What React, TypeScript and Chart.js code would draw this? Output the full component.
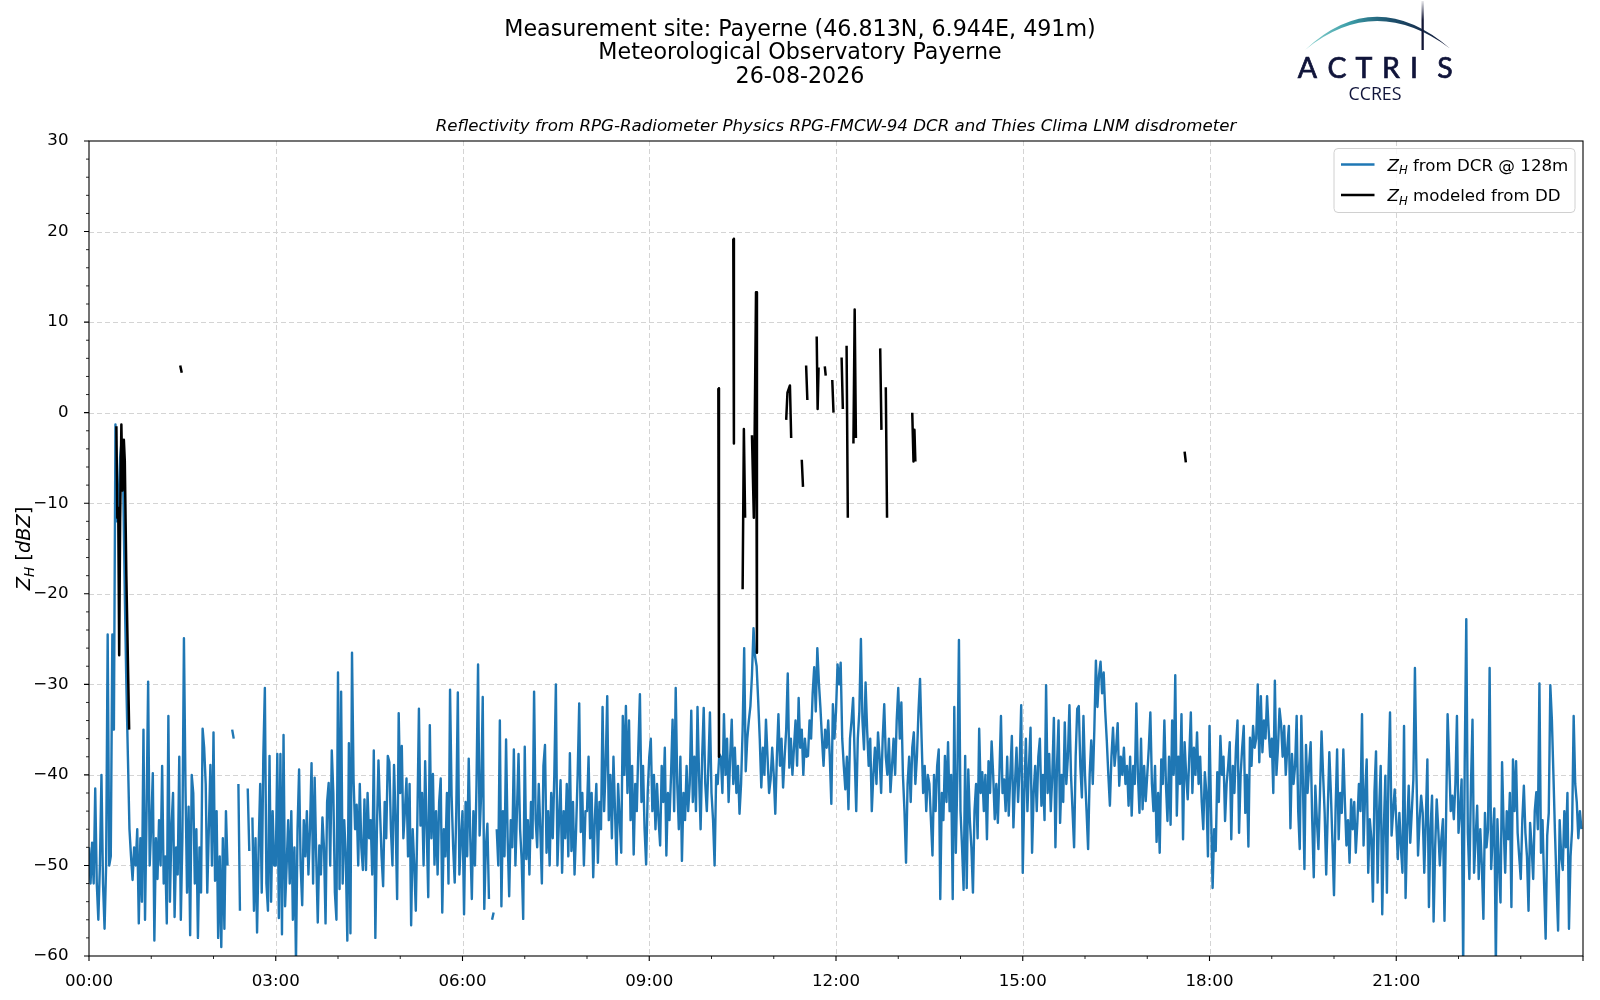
import React, { useEffect, useRef } from 'react';
import { Chart, registerables } from 'chart.js';

Chart.register(...registerables);

const FONT = '"DejaVu Sans", "Liberation Sans", sans-serif';

const TITLE_LINES = [
  'Measurement site: Payerne (46.813N, 6.944E, 491m)',
  'Meteorological Observatory Payerne',
  '26-08-2026',
];
const SUBTITLE = 'Reflectivity from RPG-Radiometer Physics RPG-FMCW-94 DCR and Thies Clima LNM disdrometer';
const LOGO_WORD = 'ACTRIS';
const LOGO_SUB = 'CCRES';

const X_MIN = 0;
const X_MAX = 24;
const X_MAJOR_STEP = 3;
const X_MINOR_STEP = 1;
const X_TICK_LABELS = ['00:00', '03:00', '06:00', '09:00', '12:00', '15:00', '18:00', '21:00'];
const Y_MIN = -60;
const Y_MAX = 30;
const Y_MAJOR_STEP = 10;
const Y_MINOR_STEP = 2;

// DCR reflectivity at 128 m, one value every 1.5 minutes (0.025 h)
const DCR_STEP_HOURS = 0.025;

const dcr00to06: (number | null)[] = [
  -48, -52, -47.5, -52, -41.5, -52, -56, -50, -40, -52, -57, -50, -24.5, -50, -49, -24.5, -35, -1.3, -12, -10,
  -5, -3, -8, -20, -30, -38, -46, -49, -51.6, -48, -50, -46, -56.4, -47, -54, -35, -56, -44, -29.7, -50,
  -45.5, -39.8, -58.3, -47, -51.5, -45, -50, -39, -52, -49, -56.4, -33.5, -54, -45.8, -42, -55.7, -48, -51, -38, -56,
  -47, -24.9, -41.3, -53, -43.5, -57.7, -40, -42, -52, -46, -58, -48, -53, -34.9, -37, -41, -53, -46, -38.9, -50,
  -35.3, -51.7, -44, -58, -49, -59, -47, -57, -44, -50, null, null, -35, -36, null, null, -41, -55, null, null,
  null, null, -41.5, -48.4, null, -44.7, -55, -47, -57.4, -48, -41, -53, -38, -30.4, -52, -55, -37.9, -54, -44, -50,
  -50, -37.7, -55.8, -37.7, -57.6, -35.6, -54.5, -50, -45, -52, -44, -56, -48, -60.5, -46, -39.4, -50, -54.4, -45, -49,
  -44, -51, -46, -38.7, -52, -40.3, -49, -56.3, -47.8, -51, -44.7, -48, -56.4, -43, -40.9, -50, -37.3, -42, -53, -56,
  -28.7, -52.6, -30.8, -52, -45, -49, -58.3, -36.5, -57.5, -26.5, -40.5, -46, -43.3, -50, -41, -48, -50.5, -42.7, -50.5, -42,
  -47, -45, -51, -37.3, -58, -46, -38.4, -44, -49, -52.3, -43, -47, -37.9, -38.6, -46, -50, -38.9, -45, -53.7, -33.2,
  -42, -36.8, -47, -44, -40.4, -49, -41, -56.6, -46, -50, -55, -45, -32.7, -45.6, -42, -50, -38.5, -46, -53.5, -34.5,
  -47, -39.9, -49.9, -44, -51, -43, -40.4, -55.2, -46, -49, -42, -52, -30.6, -42.3, -48, -51.9, -44, -30.9, -51, -47,
];

const dcr06to12: (number | null)[] = [
  -44, -55.4, -43, -49, -38.2, -47, -53.7, -44, -50, -41, -27.8, -46.7, -42, -31.4, -54.8, -48, -45.4, -53.7, null, -56,
  -55.2, null, -46, -50, -34, -54.5, -44, -49, -36.1, -47, -53.4, -45, -48, -37.2, -50, -44, -37.7, -46, -49.3, -55.9,
  -36.9, -49.3, -45, -51, -43, -47, -30.8, -44.9, -48, -41, -46, -52, -39, -36.7, -48.6, -44, -50, -42, -47, -40,
  -30, -50, -45, -40.6, -50.8, -44, -47, -41, -49, -37.6, -48.4, -43, -51, -46, -40, -32.1, -46.3, -42, -50, -44,
  -44, -38, -47, -42, -51.3, -45, -41, -49.7, -43, -46, -32.5, -44, -39, -31.3, -45, -40, -47, -38, -44, -49.9,
  -41, -45, -48.6, -33.5, -40, -32.4, -42, -34, -45, -39, -48.8, -41, -44, -37, -31.1, -43, -39, -46, -49.9, -42,
  -38, -36, -44, -40, -46, -41, -45, -47.8, -39, -43, -37, -48.9, -42, -45, -40, -33.9, -44, -30.4, -41, -46,
  -38, -49.5, -42, -45, -39, -44, -41, -32.9, -43, -38, -44, -32.5, -40, -46, -38, -32.6, -41, -44, -39, -33.1,
  -42, -45, -50, -40, -41, -37.7, -38, -42, -33.3, -40, -36, -43, -38, -33.9, -41, -37, -42, -39, -44.3, -41,
  -35, -26, -39.6, -36, -34, -32.4, -29, -23.8, -26.9, -28, -31.8, -36, -41.4, -37, -40, -33.9, -38, -42, -40.5, -37,
  -40, -44.3, -38, -33.3, -39, -36, -41.4, -38, -35, -28.8, -39.2, -36, -40, -37, -34, -39, -31.5, -37, -35, -40,
  -36, -38, -37.9, -34, -36, -31, -28.1, -33, -26, -29.8, -32.6, -36, -39, -35, -37, -34, -38, -43.2, -32.2, -36,
];

const dcr12to18: (number | null)[] = [
  -33, -27.8, -30, -27.6, -36, -39, -41.6, -38, -43.8, -36, -34, -31.5, -38, -44, -36, -33, -25, -34, -37.2, -29.8,
  -35, -39, -36, -44, -40, -37, -41, -35.3, -38, -42, -36, -32.2, -38, -40, -36, -41.9, -39, -36, -40, -34,
  -30.4, -36, -32, -40, -44, -49.7, -41, -38, -43, -37, -35.3, -41, -38, -33, -29.4, -36, -42, -39, -44, -40,
  -41, -45, -48.9, -40, -44, -39, -37.2, -53.7, -42, -45, -37.9, -43, -36.4, -44, -40, -53.7, -32.5, -48.6, -40, -25.1,
  -44, -48, -52.7, -37.9, -52.5, -39.4, -45, -48, -53, -44, -41, -47, -34.9, -42, -39.7, -44, -40, -47.1, -38.5, -42,
  -36.3, -40, -44.9, -41, -45.3, -40, -33.5, -42, -40.5, -44, -38, -44.5, -40, -35.7, -45.8, -41, -37, -43, -39, -32.3,
  -50.8, -42, -36, -44, -39, -34.8, -48.6, -42, -39, -44, -38, -36, -43.4, -40, -45, -30.1, -42, -37.7, -44, -40,
  -33.7, -48, -39, -34, -45.3, -40, -43, -34.2, -41, -38, -32.3, -40, -44, -48, -38, -32.7, -32.4, -39, -42.5, -33.5,
  -40, -44, -48.2, -40, -36.2, -41, -35, -27.4, -32.5, -29, -27.5, -31, -28.7, -33, -36.2, -40, -43.4, -38, -34.8, -39,
  -37, -34.3, -41.2, -38, -40, -37, -41, -39, -43.4, -38, -44.5, -39, -41, -32.1, -40, -44.2, -36, -43.8, -39, -42.9,
  -40, -37, -33.1, -41, -44, -39, -47.4, -42, -48.6, -38.3, -41, -34, -41, -45.1, -38, -45.5, -34, -40, -29, -44.5,
  -38, -41, -33.3, -47.1, -36.4, -40, -42.7, -38, -33.1, -42, -37, -40, -35.3, -41, -38, -43, -46, -39.7, -42, -49,
];

const dcr18to24: (number | null)[] = [
  -34.6, -44, -52.5, -46, -48.4, -39.7, -43, -35.7, -40, -38, -45.1, -41, -39, -36.4, -47.1, -39, -42, -37, -34, -46.4,
  -40, -37, -34.6, -44.2, -40, -47.9, -35.9, -39, -34.6, -37, -36, -30, -38.6, -31.3, -37.5, -34, -36, -31.3, -35, -38,
  -36, -42, -29.6, -40, -37, -32.7, -34.4, -38, -34.6, -40, -37, -34.6, -45.9, -37.7, -41, -39, -33.5, -44, -48.2, -33.5,
  -40.5, -50.4, -36.7, -42, -39, -36.4, -45, -51.3, -41.2, -45, -48.2, -42, -35.2, -40, -44.2, -51, -44, -37.5, -42, -47.5,
  -53.3, -44, -37.2, -47.1, -42, -44.2, -37.2, -43, -47.8, -45, -49.7, -42.7, -46, -43, -48.6, -45.3, -41, -44, -33.3, -47.8,
  -42, -38.3, -50.8, -44.9, -47, -54, -41.9, -37.4, -51.9, -44, -39, -55.4, -46, -40.1, -53, -40, -33.1, -46.7, -44, -41.6,
  -45, -49.3, -44.2, -48, -50.8, -34.6, -53.6, -46, -41.2, -47.5, -44, -40.5, -28.2, -40, -48.9, -45, -42.3, -44.2, -50.8, -45,
  -38.3, -54.6, -46, -42.3, -56.2, -48, -42.7, -46, -50, -47, -44.9, -56.1, -45, -33.3, -38.5, -44, -42.3, -44.9, -41, -33.5,
  -46.4, -44, -40.5, -61, -38.6, -22.8, -46.4, -51.5, -41.2, -33.9, -50.8, -47, -43.4, -51.5, -46, -50, -55.9, -44.2, -48, -46,
  -28.2, -50.4, -46.7, -43.7, -61, -44.9, -50, -54.1, -38.6, -45.6, -50.8, -44, -47.1, -42, -54.6, -38.3, -44, -38.5, -46.4, -49,
  -51.5, -45, -41.2, -46.4, -49, -55, -45.3, -48, -51.5, -44, -41.9, -46, -29.9, -48.6, -45, -52, -58.1, -46.7, -44.2, -30.1,
  -33.9, -40, -46.4, -52, -57.2, -45, -49, -50.5, -44, -48, -42, -57, -49, -46, -33.5, -41, -43, -47, -44, -46,
];

// Modelled reflectivity from the disdrometer (null = gap)
const ddHours: number[] = [
  0.44, 0.455, 0.47, 0.485, 0.5, 0.52, 0.54, 0.56, 0.575, 0.6, 0.645, 0.7,
  1.465, 1.49, 1.6,
  10.11, 10.12, 10.2,
  10.35, 10.36, 10.42,
  10.5, 10.52, 10.54, 10.6,
  10.65, 10.68, 10.715, 10.73, 10.9,
  11.2, 11.22, 11.26, 11.28, 11.35,
  11.45, 11.47, 11.5,
  11.52, 11.54, 11.6,
  11.69, 11.705, 11.72, 11.77,
  11.82, 11.835, 11.9,
  11.94, 11.96, 12.0,
  12.09, 12.11, 12.14,
  12.17, 12.19, 12.24,
  12.28, 12.3, 12.32, 12.5,
  12.71, 12.73, 12.76,
  12.8, 12.82, 13.0,
  13.225, 13.245, 13.26, 13.275, 15.0,
  17.6, 17.62,
];
const ddValues: (number | null)[] = [
  -1.5, -11.6, -10.5, -26.8, -12, -1.3, -8.6, -3, -5.3, -18, -35, null,
  5.2, 4.4, null,
  2.7, -38, null,
  19.2, -3.4, null,
  -19.5, -1.8, -11.6, null,
  -2.5, -11.6, 13.3, -26.5, null,
  -0.8, 2.2, 3.0, -2.8, null,
  -5.2, -8.2, null,
  5.2, 1.4, null,
  8.4, 0.4, 5.0, null,
  5.1, 4.1, null,
  3.6, 0, null,
  6.1, 0.4, null,
  7.4, -11.6, null,
  -3.4, 11.4, -2.8, null,
  7.1, -1.9, null,
  2.8, -11.6, null,
  0, -5.4, -1.9, -5.4, null,
  -4.3, -5.5,
];

const DCR_COLOR = '#1f77b4';
const DD_COLOR = '#000000';

type Run = { text: string; italic?: boolean; sub?: boolean };

const LEGEND_ITEMS: { color: string; runs: Run[] }[] = [
  { color: DCR_COLOR, runs: [{ text: 'Z', italic: true }, { text: 'H', italic: true, sub: true }, { text: ' from DCR @ 128m' }] },
  { color: DD_COLOR, runs: [{ text: 'Z', italic: true }, { text: 'H', italic: true, sub: true }, { text: ' modeled from DD' }] },
];
const Y_LABEL_RUNS: Run[] = [
  { text: 'Z', italic: true },
  { text: 'H', italic: true, sub: true },
  { text: ' [' },
  { text: 'dBZ', italic: true },
  { text: ']' },
];

const fontFor = (r: Run, size: number) => `${r.italic ? 'italic ' : ''}${r.sub ? size * 0.7 : size}px ${FONT}`;

function runsWidth(ctx: CanvasRenderingContext2D, runs: Run[], size: number) {
  let w = 0;
  for (const r of runs) {
    ctx.font = fontFor(r, size);
    w += ctx.measureText(r.text).width;
  }
  return w;
}

function drawRuns(ctx: CanvasRenderingContext2D, runs: Run[], x: number, y: number, size: number) {
  let cx = x;
  ctx.textAlign = 'left';
  ctx.textBaseline = 'alphabetic';
  for (const r of runs) {
    ctx.font = fontFor(r, size);
    ctx.fillText(r.text, cx, r.sub ? y + size * 0.22 : y);
    cx += ctx.measureText(r.text).width;
  }
}

const decorPlugin = {
  id: 'decor',
  beforeDatasetsDraw(chart: any) {
    const { ctx, chartArea: a, scales } = chart;
    const xs = scales.x;
    const ys = scales.y;
    ctx.save();
    ctx.strokeStyle = '#d4d4d4';
    ctx.lineWidth = 1;
    ctx.setLineDash([5, 3]);
    ctx.beginPath();
    for (let h = X_MIN + X_MAJOR_STEP; h < X_MAX; h += X_MAJOR_STEP) {
      const px = Math.round(xs.getPixelForValue(h)) + 0.5;
      ctx.moveTo(px, a.top);
      ctx.lineTo(px, a.bottom);
    }
    for (let v = Y_MIN + Y_MAJOR_STEP; v < Y_MAX; v += Y_MAJOR_STEP) {
      const py = Math.round(ys.getPixelForValue(v)) + 0.5;
      ctx.moveTo(a.left, py);
      ctx.lineTo(a.right, py);
    }
    ctx.stroke();
    ctx.restore();
  },
  afterDatasetsDraw(chart: any) {
    const { ctx, chartArea: a, scales } = chart;
    const xs = scales.x;
    const ys = scales.y;
    ctx.save();
    ctx.setLineDash([]);
    ctx.strokeStyle = '#000';
    ctx.lineWidth = 1.1;
    ctx.strokeRect(a.left, a.top, a.right - a.left, a.bottom - a.top);
    ctx.beginPath();
    for (let h = X_MIN; h <= X_MAX; h += X_MAJOR_STEP) {
      const px = xs.getPixelForValue(h);
      ctx.moveTo(px, a.bottom);
      ctx.lineTo(px, a.bottom + 5);
    }
    for (let v = Y_MIN; v <= Y_MAX; v += Y_MAJOR_STEP) {
      const py = ys.getPixelForValue(v);
      ctx.moveTo(a.left, py);
      ctx.lineTo(a.left - 5, py);
    }
    ctx.stroke();
    ctx.lineWidth = 0.85;
    ctx.beginPath();
    for (let h = X_MIN; h <= X_MAX; h += X_MINOR_STEP) {
      if (h % X_MAJOR_STEP === 0) continue;
      const px = xs.getPixelForValue(h);
      ctx.moveTo(px, a.bottom);
      ctx.lineTo(px, a.bottom + 3);
    }
    for (let v = Y_MIN; v <= Y_MAX; v += Y_MINOR_STEP) {
      if (v % Y_MAJOR_STEP === 0) continue;
      const py = ys.getPixelForValue(v);
      ctx.moveTo(a.left, py);
      ctx.lineTo(a.left - 3, py);
    }
    ctx.stroke();
    ctx.restore();
  },
  afterDraw(chart: any) {
    const { ctx, chartArea: a } = chart;
    ctx.save();
    ctx.fillStyle = '#000';

    // Titles
    ctx.textAlign = 'center';
    ctx.textBaseline = 'alphabetic';
    ctx.font = `22.2px ${FONT}`;
    TITLE_LINES.forEach((s, i) => ctx.fillText(s, 800, 36 + i * 23.3));

    ctx.font = `italic 16.67px ${FONT}`;
    ctx.fillText(SUBTITLE, (a.left + a.right) / 2, 131);

    // Y label
    ctx.save();
    ctx.translate(22.5, (a.top + a.bottom) / 2);
    ctx.rotate(-Math.PI / 2);
    const ySize = 19.4;
    const yw = runsWidth(ctx, Y_LABEL_RUNS, ySize);
    drawRuns(ctx, Y_LABEL_RUNS, -yw / 2, 7, ySize);
    ctx.restore();

    // Legend
    const lx = 1334;
    const ly = 148.5;
    const lw = 241;
    const lh = 64;
    ctx.beginPath();
    ctx.roundRect(lx, ly, lw, lh, 4);
    ctx.fillStyle = 'rgba(255,255,255,0.8)';
    ctx.fill();
    ctx.strokeStyle = '#d0d0d0';
    ctx.lineWidth = 1;
    ctx.stroke();
    LEGEND_ITEMS.forEach((item, i) => {
      const cy = 164.5 + i * 30.5;
      ctx.strokeStyle = item.color;
      ctx.lineWidth = 2.4;
      ctx.beginPath();
      ctx.moveTo(1341, cy);
      ctx.lineTo(1374.5, cy);
      ctx.stroke();
      ctx.fillStyle = '#000';
      drawRuns(ctx, item.runs, 1387.5, cy + 6.3, 16.67);
    });

    // Logo
    const g = ctx.createLinearGradient(1306, 0, 1449, 0);
    g.addColorStop(0, '#8fd4d0');
    g.addColorStop(0.3, '#3c9ea8');
    g.addColorStop(0.6, '#1d4f6c');
    g.addColorStop(1, '#121635');
    ctx.fillStyle = g;
    ctx.beginPath();
    ctx.moveTo(1305, 50);
    ctx.quadraticCurveTo(1375, -15.5, 1450, 48.5);
    ctx.quadraticCurveTo(1375, -7, 1305, 50);
    ctx.closePath();
    ctx.fill();

    const vg = ctx.createLinearGradient(0, 0, 0, 50);
    vg.addColorStop(0, 'rgba(18,22,53,0.05)');
    vg.addColorStop(0.4, '#121635');
    vg.addColorStop(1, '#121635');
    ctx.fillStyle = vg;
    ctx.fillRect(1421.5, 1, 2.3, 49);

    ctx.fillStyle = '#10143a';
    ctx.strokeStyle = '#10143a';
    ctx.lineWidth = 0.7;
    ctx.textAlign = 'center';
    ctx.textBaseline = 'alphabetic';
    ctx.font = '400 28.5px Lato, "Open Sans", sans-serif';
    const letterX = [1307.5, 1337, 1364, 1391, 1414, 1445];
    LOGO_WORD.split('').forEach((ch, i) => {
      ctx.fillText(ch, letterX[i], 77.5);
      ctx.strokeText(ch, letterX[i], 77.5);
    });
    ctx.font = '400 19px "Open Sans", "Noto Sans", sans-serif';
    ctx.fillText(LOGO_SUB, 1375, 100, 53);

    ctx.restore();
  },
};

export default function App() {
  const canvasRef = useRef<HTMLCanvasElement | null>(null);

  useEffect(() => {
    const canvas = canvasRef.current;
    if (!canvas) return;
    const dcrAll = [...dcr00to06, ...dcr06to12, ...dcr12to18, ...dcr18to24];
    const dcrPoints = dcrAll.map((v, i) => ({ x: i * DCR_STEP_HOURS, y: v }));
    const ddPoints = ddHours.map((h, i) => ({ x: h, y: ddValues[i] }));

    const chart = new Chart(canvas, {
      type: 'line',
      data: {
        datasets: [
          {
            label: 'ZH modeled from DD',
            data: ddPoints as any,
            borderColor: DD_COLOR,
            backgroundColor: DD_COLOR,
            borderWidth: 2.5,
            pointRadius: 0,
            spanGaps: false,
            tension: 0,
            borderJoinStyle: 'round',
            order: 1,
            clip: 0,
          },
          {
            label: 'ZH from DCR @ 128m',
            data: dcrPoints as any,
            borderColor: DCR_COLOR,
            backgroundColor: DCR_COLOR,
            borderWidth: 2.4,
            pointRadius: 0,
            spanGaps: false,
            tension: 0,
            borderJoinStyle: 'round',
            order: 2,
            clip: 0,
          },
        ],
      },
      options: {
        animation: false,
        responsive: false,
        events: [],
        layout: { padding: { top: 141, right: 17, left: 0, bottom: 0 } },
        plugins: {
          legend: { display: false },
          title: { display: false },
          tooltip: { enabled: false },
        },
        scales: {
          x: {
            type: 'linear',
            min: X_MIN,
            max: X_MAX,
            grid: { display: false },
            border: { display: false },
            ticks: {
              stepSize: X_MAJOR_STEP,
              autoSkip: false,
              maxRotation: 0,
              padding: 7.5,
              color: '#000',
              font: { family: FONT, size: 16.67 },
              callback: (value: any) => X_TICK_LABELS[Math.round(Number(value) / X_MAJOR_STEP)] ?? '',
            },
            afterFit: (scale: any) => {
              scale.height = 44;
            },
          },
          y: {
            type: 'linear',
            min: Y_MIN,
            max: Y_MAX,
            grid: { display: false },
            border: { display: false },
            ticks: {
              stepSize: Y_MAJOR_STEP,
              padding: 12.5,
              color: '#000',
              font: { family: FONT, size: 16.67 },
              callback: (value: any) => (Number(value) < 0 ? '\u2212' + Math.abs(Number(value)) : String(value)),
            },
            afterFit: (scale: any) => {
              scale.width = 89;
            },
          },
        },
      },
      plugins: [decorPlugin],
    });

    return () => {
      chart.destroy();
    };
  }, []);

  return (
    <div style={{ position: 'fixed', left: 0, top: 0, width: 1600, height: 1000, background: '#fff' }}>
      <canvas ref={canvasRef} width={1600} height={1000} style={{ display: 'block', width: 1600, height: 1000 }} />
    </div>
  );
}
